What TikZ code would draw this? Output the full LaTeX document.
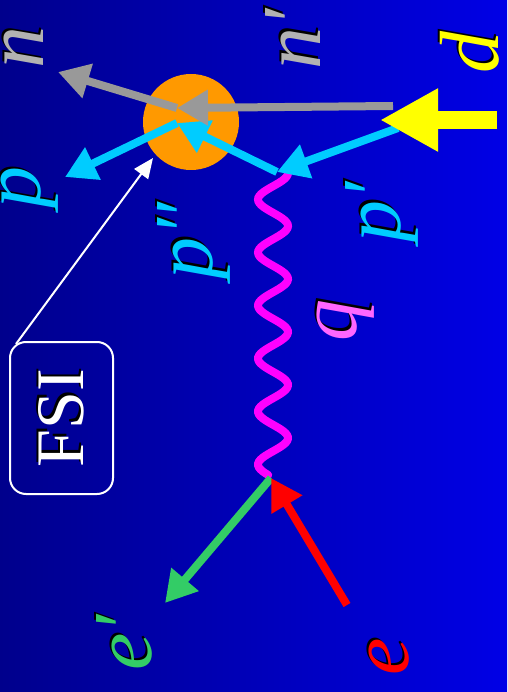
\documentclass[tikz,border=0pt]{standalone}
\usepackage{fontspec}
\setmainfont{Liberation Serif}
\usetikzlibrary{arrows.meta}

\definecolor{bgleft}{RGB}{0,0,140}
\definecolor{bgright}{RGB}{0,0,230}
\definecolor{blobc}{RGB}{255,153,0}
\definecolor{protonc}{RGB}{0,204,255}
\definecolor{neutronc}{RGB}{153,153,153}
\definecolor{neutronl}{RGB}{178,178,178}
\definecolor{photonc}{RGB}{255,0,255}
\definecolor{photonl}{RGB}{255,102,255}
\definecolor{elecin}{RGB}{255,0,0}
\definecolor{elecout}{RGB}{51,204,102}
\definecolor{deutc}{RGB}{255,255,0}

% label with a black drop shadow: [style]{name}{position}{colour}{text}
\newcommand{\shadowed}[5][lbl]{%
  \node[#1, text=black, xshift=2.5pt, yshift=2pt] (#2s) at #3 {#5};
  \node[#1, text=#4] (#2) at #3 {#5};}

\begin{document}
\begin{tikzpicture}[x=1pt, y=-1pt,
    lbl/.style={rotate=90, inner sep=0pt, font=\fontsize{84}{84}\selectfont\itshape},
    fsilbl/.style={rotate=90, inner sep=0pt, font=\fontsize{68}{68}\selectfont},
    particle/.style={line width=8pt, -{Triangle[length=31pt, width=34pt]}},
    pointer/.style={line width=2pt, white, -{Triangle[length=20pt, width=17pt]}}]

    % Fondo
    \useasboundingbox (0,0) rectangle (507,692);
    \shade[left color=bgleft, right color=bgright] (0,0) rectangle (507,692);

    % Vertices y extremos
    \coordinate (V1) at (277,172);
    \coordinate (V2) at (271,478);
    \coordinate (dTail) at (497,120);
    \coordinate (dTip) at (380,120);
    \coordinate (ndTail) at (393,106);
    \coordinate (ndTip) at (177,108);
    \coordinate (pdTail) at (398,128);
    \coordinate (ppTip) at (177,123);
    \coordinate (nEnd) at (58,72);
    \coordinate (pEnd) at (65,177);
    \coordinate (epEnd) at (165,603);
    \coordinate (eTail) at (347,605);

    % Interaccion de estado final
    \node[circle, fill=blobc, minimum size=96pt, inner sep=0pt] (blob) at (191,122) {};

    % Foton virtual
    \draw[photonc, line width=8pt, line cap=round]
        plot[domain=0:302, samples=160, variable=\t] ({273+15*cos(\t*6.79245)}, {173+\t});

    % Protones
    \draw[particle, protonc] (pdTail) -- (V1);
    \draw[particle, protonc] (V1) -- (ppTip);
    \draw[particle, protonc] (ppTip) -- (pEnd);

    % Neutrones
    \draw[particle, neutronc] (ndTail) -- (ndTip);
    \draw[particle, neutronc] (ndTip) -- (nEnd);

    % Deuteron
    \draw[deutc, line width=18pt, -{Triangle[length=58pt, width=59pt]}] (dTail) -- (dTip);

    % Electrones
    \draw[particle, elecout] (V2) -- (epEnd);
    \draw[particle, elecin] (eTail) -- (V2);

    % Caja FSI
    \node[rotate=90, draw=white, line width=2pt, rounded corners=16pt,
          minimum width=152pt, minimum height=103pt] (fsi) at (61.5,418) {};
    \coordinate (fsiCorner) at (16,344);
    \draw[pointer] (fsiCorner) -- (153,158) coordinate (fsiTip);
    \shadowed[fsilbl]{fsitext}{(fsi)}{white}{FSI}

    % Etiquetas
    \shadowed{nlab}{(24,48)}{neutronl}{n}
    \shadowed{ndlab}{(293,39)}{neutronl}{n′}
    \shadowed{dlab}{(470,53)}{deutc}{d}
    \shadowed{plab}{(30,188)}{protonc}{p}
    \shadowed{pddlab}{(194,241)}{protonc}{p″}
    \shadowed{pdlab}{(382,212)}{protonc}{p′}
    \shadowed{qlab}{(346,320)}{photonl}{q}
    \shadowed{edlab}{(124,643)}{elecout}{e′}
    \shadowed{elab}{(389,657)}{elecin}{e}
\end{tikzpicture}
\end{document}
